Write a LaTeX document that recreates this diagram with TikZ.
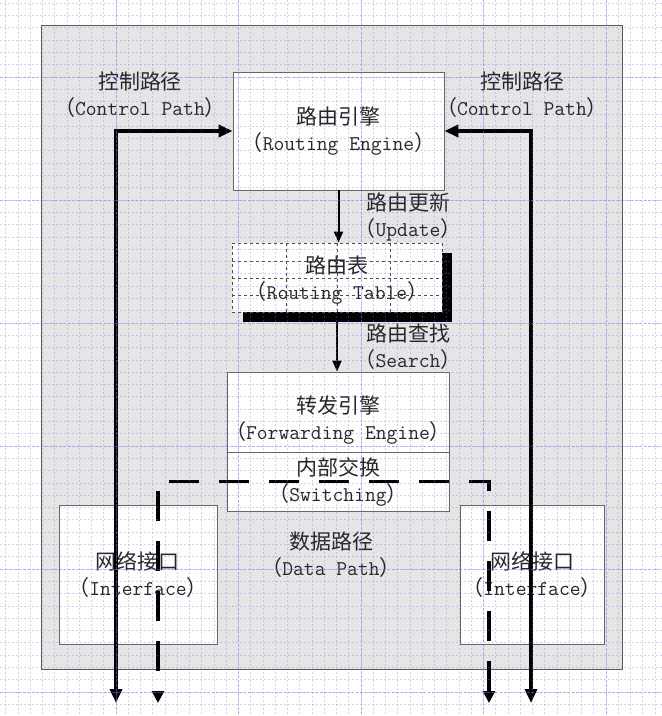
\documentclass[tikz,border=0pt]{standalone}
\usepackage{fontspec}
\newfontfamily\cjk{Noto Sans CJK SC}
\usetikzlibrary{arrows.meta,positioning}
\definecolor{gridblue}{RGB}{120,120,235}
\newcommand\zhen[2]{{\cjk #1}\\{\cjk （}#2{\cjk ）}}

\begin{document}
\begin{tikzpicture}[x=1pt,y=-1pt,
    txt/.style={align=center,text=black!85,inner sep=0pt,
      font=\ttfamily\fontsize{21}{26}\selectfont},
    box/.style={txt,draw=black!60,fill=white,line width=.8pt},
    panel/.style={draw=black!65,fill=black!10,line width=1pt},
    cell/.style={draw=black!70,dashed,line width=.6pt},
    ctrl/.style={line width=3.5pt,
      {Triangle[length=14pt,width=12pt]}-{Triangle[length=14pt,width=12pt]}},
    flow/.style={line width=2pt,-{Triangle[length=11pt,width=9pt]}},
    data/.style={line width=3.5pt,dash pattern=on 30pt off 20pt,dash phase=29pt,
      {Triangle[length=12pt,width=12pt]}-{Triangle[length=12pt,width=12pt]}},
    gridmin/.style={draw=gridblue,opacity=.32,line width=.7pt,dash pattern=on 2pt off 2pt},
    gridmaj/.style={draw=gridblue,opacity=.45,line width=1pt,dash pattern=on 3pt off 1.5pt}]
  \useasboundingbox (0,0) rectangle (662,716);
  \draw[panel] (41,25) rectangle (622,669);

  \node[box,minimum width=211,minimum height=118] (re) at (338.5,131)
    {\zhen{路由引擎}{Routing Engine}};

  \fill (243,253) rectangle (452,322);
  \node[box,draw=black!70,dashed,minimum width=210,minimum height=69] (rt) at (337,277.5) {};
  \foreach \x in {286,337,390}
    \draw[cell] (\x,243) -- (\x,312);
  \foreach \y in {261,278,295}
    \draw[cell] (232,\y) -- (442,\y);
  \node[txt] (rtt) at (337,280.5) {\zhen{路由表}{Routing Table}};

  \node[box,minimum width=222,minimum height=80] (fe) at (338,412) {};
  \node[txt] (fet) at (338,420) {\zhen{转发引擎}{Forwarding Engine}};
  \node[box,minimum width=222,minimum height=59] (sw) at (338,481.5)
    {\zhen{内部交换}{Switching}};

  \node[box,minimum width=158,minimum height=139] (ifl) at (138,575)
    {\zhen{网络接口}{Interface}};
  \node[box,minimum width=144,minimum height=139] (ifr) at (532,575)
    {\zhen{网络接口}{Interface}};

  \node[txt] (lctl) at (140,95) {\zhen{控制路径}{Control Path}};
  \node[txt] (rctl) at (522,95) {\zhen{控制路径}{Control Path}};
  \node[txt] (upd) at (408,217) {\zhen{路由更新}{Update}};
  \node[txt] (srch) at (408,347) {\zhen{路由查找}{Search}};
  \node[txt] (dp) at (331,555) {\zhen{数据路径}{Data Path}};

  \coordinate (cl) at (116,703);
  \coordinate (cr) at (531,703);
  \coordinate (dl) at (158,703);
  \coordinate (dr) at (489,703);

  \draw[ctrl] (cl) |- (re.west);
  \draw[ctrl] (cr) |- (re.east);
  \draw[flow] (re.south) -- (re.south |- rt.north);
  \draw[flow] (rt.south) -- (rt.south |- fe.north);
  \draw[data] (dl) |- (sw.center) -| (dr);

  \foreach \x in {5.75,18,...,662}
    \draw[gridmin] (\x,0) -- (\x,716);
  \foreach \y in {3.2,15.5,...,716}
    \draw[gridmin] (0,\y) -- (662,\y);
  \foreach \x in {116,238.5,...,662}
    \draw[gridmaj] (\x,0) -- (\x,716);
  \foreach \y in {77,200,...,716}
    \draw[gridmaj] (0,\y) -- (662,\y);
\end{tikzpicture}
\end{document}
